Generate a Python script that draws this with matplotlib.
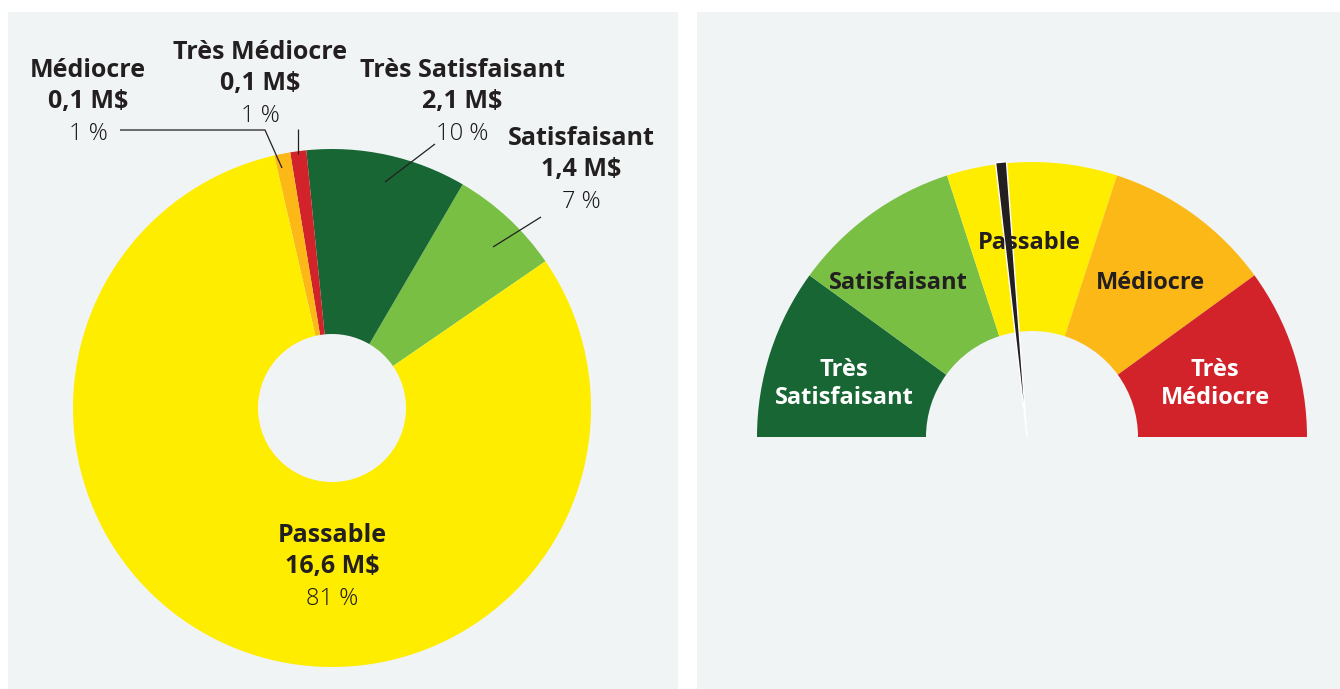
import numpy as np
import matplotlib
matplotlib.use("Agg")
import matplotlib.pyplot as plt
from matplotlib.patches import Wedge, Polygon

plt.rcParams['font.family'] = ['Open Sans', 'DejaVu Sans']

# donut data (counter-clockwise from start angle)
cats = ["Satisfaisant", "Très Satisfaisant", "Très Médiocre", "Médiocre", "Passable"]
amounts = ["1,4 M$", "2,1 M$", "0,1 M$", "0,1 M$", "16,6 M$"]
pcts = [7, 10, 1, 1, 81]
pie_colors = ["#78bf44", "#186634", "#d2232a", "#fbb817", "#ffed00"]

# gauge data (left to right)
gauge_labels = ["Très\nSatisfaisant", "Satisfaisant", "Passable", "Médiocre", "Très\nMédiocre"]
gauge_steps = [1, 1, 1, 1, 1]
gauge_colors = ["#186634", "#78bf44", "#ffed00", "#fbb817", "#d2232a"]
gauge_text = ["white", "#231f20", "#231f20", "#231f20", "white"]
needle_pos = 2.35   # position along the gauge, in segments from the left

panel = "#f0f4f5"
ink = "#231f20"
H = 689

fig = plt.figure(figsize=(13.4, 6.89), dpi=100)

# ---------------- left panel: donut ----------------
ax1 = fig.add_axes([8 / 1340, 0, 670 / 1340, 677 / H])
ax1.set_facecolor(panel)

cx, cy = 332, H - 408
ax1.pie(pcts, colors=pie_colors, startangle=34.5, counterclock=True,
        center=(cx, cy), radius=259, frame=True,
        wedgeprops=dict(width=259 - 74, linewidth=0))
ax1.set_xlim(8, 678)
ax1.set_ylim(0, 677)
ax1.set_aspect("auto")
ax1.set_xticks([])
ax1.set_yticks([])
for s in ax1.spines.values():
    s.set_visible(False)

# label placement (x centre, baseline of first line) in image pixels
label_pos = {
    "Médiocre": (88, 77),
    "Très Médiocre": (260, 59),
    "Très Satisfaisant": (462, 77),
    "Satisfaisant": (581, 145),
    "Passable": (332, 542),
}
for name, amt, p in zip(cats, amounts, pcts):
    x, y = label_pos[name]
    ax1.text(x, H - y, name, ha="center", va="baseline", fontsize=18,
             fontweight="bold", color=ink)
    ax1.text(x, H - y - 31, amt, ha="center", va="baseline", fontsize=18,
             fontweight="bold", color=ink)
    ax1.text(x, H - y - 63, f"{p} %", ha="center", va="baseline", fontsize=17,
             fontweight="light", color="#1a1718")

# leader lines
leaders = [
    [(120, 130), (265, 130), (282, 168)],
    [(298, 129), (298, 154)],
    [(435, 144), (385, 182)],
    [(541, 217), (493, 247)],
]
for pts in leaders:
    xs = [p[0] for p in pts]
    ys = [H - p[1] for p in pts]
    ax1.plot(xs, ys, color=ink, lw=0.9, solid_capstyle="butt")

# ---------------- right panel: gauge ----------------
ax2 = fig.add_axes([697 / 1340, 0, 643 / 1340, 677 / H])
ax2.set_facecolor(panel)
ax2.set_xlim(697, 1340)
ax2.set_ylim(0, 677)
ax2.set_xticks([])
ax2.set_yticks([])
for s in ax2.spines.values():
    s.set_visible(False)

gx, gy = 1032, H - 437
r_out, r_in = 275, 106
span = 180.0 / sum(gauge_steps)
edges = 180 - span * np.concatenate([[0], np.cumsum(gauge_steps)])

# label centres in image pixels
gauge_label_xy = [(844, 384), (898, 283), (1029, 243), (1150, 283), (1215, 384)]
for i, (lab, col, tc) in enumerate(zip(gauge_labels, gauge_colors, gauge_text)):
    a1, a0 = edges[i], edges[i + 1]
    ax2.add_patch(Wedge((gx, gy), r_out, a0, a1, width=r_out - r_in,
                        facecolor=col, edgecolor="none"))
    lx, ly = gauge_label_xy[i]
    ax2.text(lx, H - ly, lab, ha="center", va="center", fontsize=17,
             fontweight="bold", color=tc, linespacing=1.25)

# needle
ang = np.radians(180 - needle_pos * span)
tip = np.array([gx - 5, gy])
top = tip + 276 * np.array([np.cos(ang), np.sin(ang)])
perp = np.array([-np.sin(ang), np.cos(ang)])
needle = Polygon([tip, top + perp * 5.5, top - perp * 5.5], closed=True,
                 facecolor=ink, edgecolor="white", linewidth=1.0)
ax2.add_patch(needle)

fig.savefig("out.png", dpi=100, facecolor="white")
